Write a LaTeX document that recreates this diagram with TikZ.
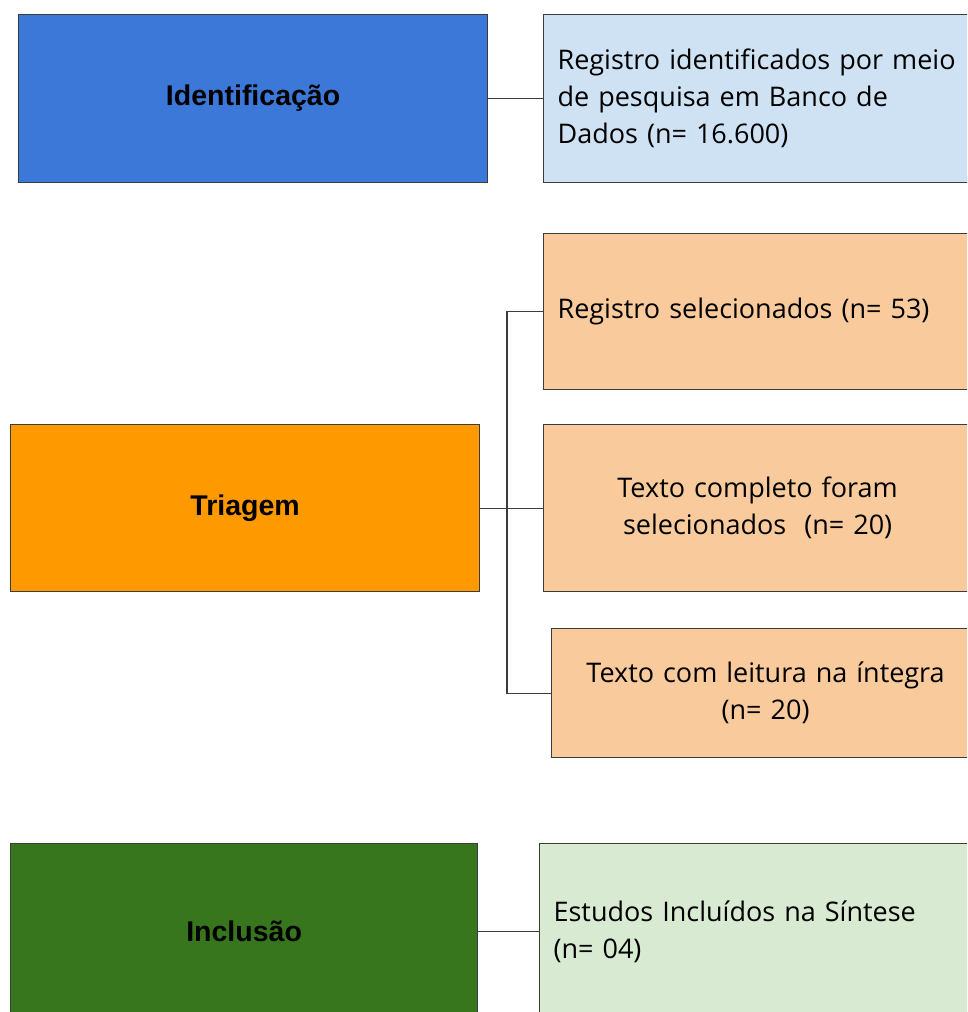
\documentclass[tikz,border=0pt]{standalone}
\usepackage{fontspec}
\setmainfont{Open Sans}
\newfontfamily\stagefont{Liberation Sans}
\definecolor{idblue}{HTML}{3C78D8}
\definecolor{idlight}{HTML}{CFE2F3}
\definecolor{triorange}{HTML}{FF9900}
\definecolor{trilight}{HTML}{F9CB9C}
\definecolor{incgreen}{HTML}{38761D}
\definecolor{inclight}{HTML}{D9EAD3}
\definecolor{boxline}{HTML}{3C3C3C}

\begin{document}
\begin{tikzpicture}[x=1pt,y=1pt,yscale=-1,xscale=1,
    stage/.style={draw=boxline,line width=1.2pt,anchor=north west,inner sep=0pt,font=\stagefont\bfseries\fontsize{28.5}{33}\selectfont},
    info/.style={draw=boxline,line width=1.2pt,anchor=north west,inner xsep=14pt,inner ysep=0pt,font=\fontsize{27}{37}\selectfont},
    link/.style={draw=boxline,line width=1.2pt}]
    \useasboundingbox (0,0) rectangle (967,1012);
    \clip (0,0) rectangle (967,1012);

    %Shape: Rectangle [Identificacao]
    \node [stage,fill=idblue,minimum width=469pt,minimum height=168pt] (idf) at (18,14) {Identificação};
    %Shape: Rectangle [Registro]
    \node [info,fill=idlight,minimum width=440pt,minimum height=168pt,text width=412pt,align=left] (reg) at (543,14) {Registro identificados por meio\\de pesquisa em Banco de\\Dados (n= 16.600)};

    %Shape: Rectangle [Triagem]
    \node [stage,fill=triorange,minimum width=469pt,minimum height=167pt] (tri) at (10,424) {Triagem};
    %Shape: Rectangle [Selecionados]
    \node [info,fill=trilight,minimum width=440pt,minimum height=156pt,text width=412pt,align=left] (sel) at (543,233) {Registro selecionados (n= 53)};
    %Shape: Rectangle [Texto completo]
    \node [info,fill=trilight,minimum width=428pt,minimum height=167pt,text width=400pt,align=center] (txt) at (543,424) {Texto completo foram\\selecionados~~(n= 20)};
    %Shape: Rectangle [Leitura]
    \node [info,fill=trilight,minimum width=428pt,minimum height=129pt,text width=400pt,align=center] (lei) at (551,628) {Texto com leitura na íntegra\\(n= 20)};

    %Shape: Rectangle [Inclusao]
    \node [stage,fill=incgreen,minimum width=467pt,minimum height=176pt] (inc) at (10,843) {Inclusão};
    %Shape: Rectangle [Estudos]
    \node [info,fill=inclight,minimum width=444pt,minimum height=176pt,text width=416pt,align=left] (est) at (539,843) {Estudos Incluídos na Síntese\\(n= 04)};

    % Connectors
    \coordinate (hub) at (507,507.5);
    \draw [link] (idf.east) -- (reg.west);
    \draw [link] (tri.east) -- (txt.west);
    \draw [link] (hub) |- (sel.west);
    \draw [link] (hub) |- (lei.west);
    \draw [link] (inc.east) -- (est.west);

\end{tikzpicture}
\end{document}
